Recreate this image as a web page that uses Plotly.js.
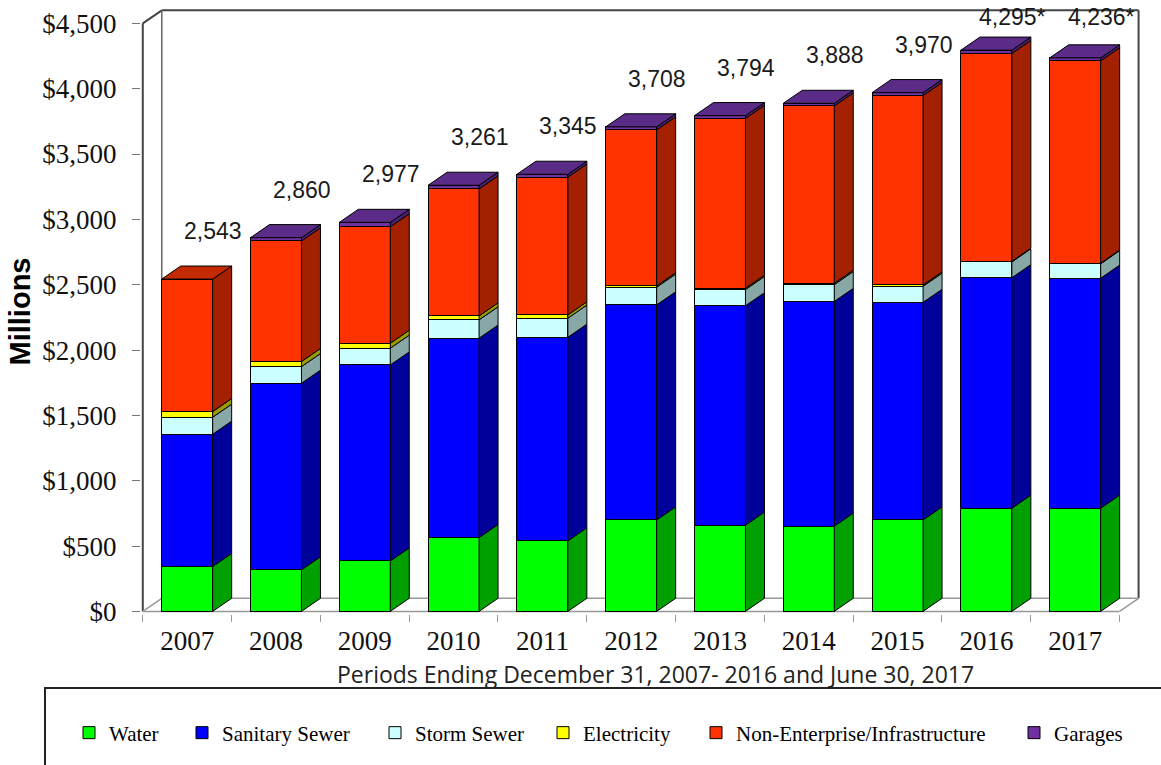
<!DOCTYPE html>
<html>
<head>
<meta charset="utf-8">
<script src="https://cdn.plot.ly/plotly-3.0.1.min.js"></script>
<style>html,body{margin:0;padding:0;background:#fff;}#chart{width:1161px;height:765px;}</style>
</head>
<body>
<div id="chart"></div>
<script>
// ---- data (millions of dollars) ----
const years = ['2007','2008','2009','2010','2011','2012','2013','2014','2015','2016','2017'];
const water = [344, 318, 386, 565, 540, 700, 660, 652, 700, 790, 790];
const sanitarySewer = [1012, 1428, 1500, 1526, 1558, 1646, 1679, 1720, 1665, 1764, 1760];
const stormSewer = [130, 127, 128, 140, 146, 135, 124, 129, 123, 120, 110];
const electricity = [43, 39, 38, 30, 25, 10, 10, 10, 10, 5, 5];
const nonEnterprise = [1014, 923, 891, 972, 1054, 1194, 1300, 1357, 1450, 1591, 1549];
const garages = [0, 25, 34, 28, 22, 23, 21, 20, 22, 25, 22];
const totalLabels = ['2,543','2,860','2,977','3,261','3,345','3,708','3,794','3,888','3,970','4,295*','4,236*'];
const seriesNames = ['Water','Sanitary Sewer','Storm Sewer','Electricity','Non-Enterprise/Infrastructure','Garages'];

// ---- styling ----
const seriesValues = [water, sanitarySewer, stormSewer, electricity, nonEnterprise, garages];
const frontColors = ['#00FF00','#0000FF','#CCFFFF','#FFFF00','#FF3300','#7030A0'];
const sideColors  = ['#00A000','#00009A','#88A8A8','#9A9A00','#A32000','#4A2070'];
const topColors   = ['#00C800','#0000C8','#AACCCC','#CCCC00','#C42A00','#5B2C87'];
const legendIds = ['legend','legend2','legend3','legend4','legend5','legend6'];
const legendLeftPx = [69, 182, 375, 543, 696, 1014];

const W = 0.574;      // bar width (category units)
const DX = 0.214;     // depth offset in x (category units)
const DY = 100;       // depth offset in y (value units)
const ML = 141, MR = 21, MT = 9, MB = 151, FW = 1161, FH = 765;
const XR = [-0.52, 10.73], YR = [-20, 4610];
const plotW = FW - ML - MR, plotH = FH - MT - MB;
const kY = plotH / (YR[1] - YR[0]);

const idx = years.map((_, i) => i);
const totals = idx.map(i => seriesValues.reduce((a, s) => a + s[i], 0));

const traces = [];
// front faces (stacked bars)
seriesValues.forEach((vals, s) => {
  traces.push({
    type: 'bar', x: idx, y: vals, name: seriesNames[s], width: W,
    marker: {color: frontColors[s], line: {color: '#000', width: 1}},
    legend: legendIds[s], hoverinfo: 'name+y'
  });
});
// side faces
seriesValues.forEach((vals, s) => {
  const xs = [], ys = [];
  idx.forEach(i => {
    if (vals[i] <= 0) return;
    let base = 0;
    for (let k = 0; k < s; k++) base += seriesValues[k][i];
    const top = base + vals[i];
    const xr = i + W / 2;
    xs.push(xr, xr + DX, xr + DX, xr, xr, null);
    ys.push(base, base + DY, top + DY, top, base, null);
  });
  traces.push({
    type: 'scatter', mode: 'lines', x: xs, y: ys, fill: 'toself',
    fillcolor: sideColors[s], line: {color: '#000', width: 1},
    showlegend: false, hoverinfo: 'skip'
  });
});
// top faces (on top-most non-zero segment)
seriesValues.forEach((vals, s) => {
  const xs = [], ys = [];
  idx.forEach(i => {
    let topS = -1;
    seriesValues.forEach((v, k) => { if (v[i] > 0) topS = k; });
    if (topS !== s) return;
    const T = totals[i];
    const xl = i - W / 2, xr = i + W / 2;
    xs.push(xl, xl + DX, xr + DX, xr, xl, null);
    ys.push(T, T + DY, T + DY, T, T, null);
  });
  if (xs.length) traces.push({
    type: 'scatter', mode: 'lines', x: xs, y: ys, fill: 'toself',
    fillcolor: topColors[s], line: {color: '#000', width: 1},
    showlegend: false, hoverinfo: 'skip'
  });
});

// total labels
const annotations = idx.map(i => ({
  x: i, y: totals[i], xref: 'x', yref: 'y', text: totalLabels[i], showarrow: false,
  xshift: 26, yshift: Math.min(48, (YR[1] - totals[i]) * kY - 8),
  font: {family: 'Liberation Sans, Arial, sans-serif', size: 23, color: '#1a1a1a'}
}));
annotations.push({
  text: 'Periods Ending December 31, 2007- 2016 and June 30, 2017',
  xref: 'paper', yref: 'paper', x: (655 - ML) / plotW, y: (FH - MB - 674) / plotH,
  xanchor: 'center', yanchor: 'middle', showarrow: false,
  font: {family: 'Open Sans, sans-serif', size: 23, color: '#222'}
});

// 3D frame (walls/floor)
const yMax = 4500;
const ln = (x0, y0, x1, y1, color, width) => ({type: 'line', xref: 'x', yref: 'y', x0, y0, x1, y1, layer: 'below', line: {color, width}});
const shapes = [
  ln(-0.5, 0, -0.5, yMax, '#444', 2),
  ln(-0.5, yMax, -0.5 + DX, yMax + DY, '#444', 2),
  ln(-0.5 + DX, yMax + DY, 10.5 + DX, yMax + DY, '#444', 2),
  ln(10.5 + DX, yMax + DY, 10.5 + DX, DY, '#444', 2),
  ln(-0.5 + DX, DY, -0.5 + DX, yMax + DY, '#666', 1.5),
  ln(-0.5, 0, 10.5, 0, '#999', 1.5),
  ln(-0.5 + DX, DY, 10.5 + DX, DY, '#999', 1.5),
  ln(10.5, 0, 10.5 + DX, DY, '#999', 1.5),
  ln(-0.5, 0, -0.5 + DX, DY, '#999', 1.5),
  {type: 'rect', xref: 'paper', yref: 'paper',
   x0: (45 - ML) / plotW, x1: 1.05, y0: (FH - MB - 688) / plotH, y1: (FH - MB - 780) / plotH,
   line: {color: '#222', width: 2}, fillcolor: 'rgba(0,0,0,0)'}
];

const layout = {
  width: FW, height: FH,
  margin: {l: ML, r: MR, t: MT, b: MB, pad: 0},
  paper_bgcolor: '#fff', plot_bgcolor: '#fff',
  barmode: 'stack', showlegend: true,
  xaxis: {
    range: XR, tickmode: 'array', tickvals: idx, ticktext: years, ticks: '',
    showgrid: false, zeroline: false, showline: false, automargin: false,
    ticklabelstandoff: 8,
    tickfont: {family: 'Liberation Serif, Times New Roman, serif', size: 27, color: '#111'},
    minor: {tickmode: 'array', tickvals: idx.map(i => i - 0.5).concat([idx.length - 0.5]),
            ticks: 'outside', ticklen: 7, tickwidth: 1, tickcolor: '#999', showgrid: false}
  },
  yaxis: {
    range: YR, tickmode: 'linear', tick0: 0, dtick: 500, tickprefix: '$', tickformat: ',d',
    ticks: 'outside', ticklen: 8, tickwidth: 1, tickcolor: '#777',
    showgrid: false, zeroline: false, showline: false, automargin: false,
    ticklabelstandoff: 10,
    tickfont: {family: 'Liberation Serif, Times New Roman, serif', size: 27, color: '#111'},
    title: {text: 'Millions', standoff: 3,
            font: {family: 'Liberation Sans, Arial, sans-serif', size: 29, color: '#000', weight: 'bold'}}
  },
  annotations, shapes
};
legendIds.forEach((id, s) => {
  layout[id] = {
    x: (legendLeftPx[s] - ML) / plotW, xanchor: 'left',
    y: (FH - MB - 733) / plotH, yanchor: 'middle', orientation: 'h',
    bgcolor: 'rgba(0,0,0,0)', borderwidth: 0,
    font: {family: 'Liberation Serif, Times New Roman, serif', size: 21, color: '#000'}
  };
});

Plotly.newPlot('chart', traces, layout, {displayModeBar: false, staticPlot: true});
</script>
</body>
</html>
